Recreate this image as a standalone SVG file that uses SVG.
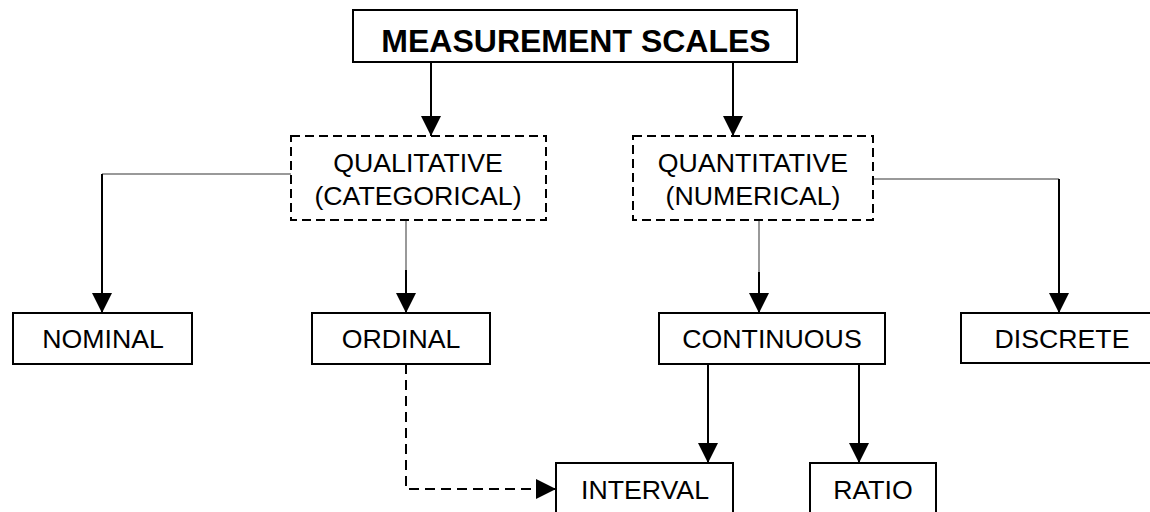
<svg xmlns="http://www.w3.org/2000/svg" width="1150" height="512" viewBox="0 0 1150 512">
<style>
.box{fill:#fff;stroke:#000;stroke-width:2}
.dbox{fill:#fff;stroke:#000;stroke-width:2;stroke-dasharray:9,5}
.t{font-family:"Liberation Sans",Arial,sans-serif;font-size:26.7px;fill:#000;text-anchor:middle}
.title{font-family:"Liberation Sans",Arial,sans-serif;font-size:32px;font-weight:bold;fill:#000;text-anchor:middle}
.c{fill:none;stroke:#000;stroke-width:2}
.g{fill:none;stroke:#999;stroke-width:2}
.dc{fill:none;stroke:#000;stroke-width:2;stroke-dasharray:10,6}
</style>
<defs>
<marker id="ah" viewBox="0 0 20 20" refX="20" refY="10" markerWidth="20" markerHeight="20" markerUnits="userSpaceOnUse" orient="auto">
<path d="M0,0 L20,10 L0,20 z" fill="#000"/>
</marker>
</defs>
<rect width="1150" height="512" fill="#fff"/>
<g id="connectors">
<path class="c" d="M431,62 V136" marker-end="url(#ah)"/>
<path class="c" d="M733,62 V136" marker-end="url(#ah)"/>
<path class="g" d="M291,174 H102"/>
<path class="c" d="M102,174 V313" marker-end="url(#ah)"/>
<path class="g" d="M406,220 V270"/>
<path class="c" d="M406,270 V313" marker-end="url(#ah)"/>
<path class="g" d="M759,220 V272"/>
<path class="c" d="M759,272 V313" marker-end="url(#ah)"/>
<path class="g" d="M873,179 H1059"/>
<path class="c" d="M1059,179 V313" marker-end="url(#ah)"/>
<path class="c" d="M708,364 V463" marker-end="url(#ah)"/>
<path class="c" d="M859,364 V463" marker-end="url(#ah)"/>
<path class="dc" d="M406,364 V489 H556" marker-end="url(#ah)"/>
</g>
<g id="measurement-scales">
<rect class="box" x="353" y="10" width="444" height="52"/>
<text class="title" x="576" y="52">MEASUREMENT SCALES</text>
</g>
<g id="qualitative">
<rect class="dbox" x="291" y="136" width="255" height="84"/>
<text class="t" x="418" y="172">QUALITATIVE</text>
<text class="t" x="418" y="205">(CATEGORICAL)</text>
</g>
<g id="quantitative">
<rect class="dbox" x="633" y="136" width="240" height="84"/>
<text class="t" x="753" y="172">QUANTITATIVE</text>
<text class="t" x="753" y="205">(NUMERICAL)</text>
</g>
<g id="nominal">
<rect class="box" x="13" y="313" width="179" height="51"/>
<text class="t" x="103" y="348">NOMINAL</text>
</g>
<g id="ordinal">
<rect class="box" x="312" y="313" width="178" height="51"/>
<text class="t" x="401" y="348">ORDINAL</text>
</g>
<g id="continuous">
<rect class="box" x="659" y="313" width="226" height="51"/>
<text class="t" x="772" y="348">CONTINUOUS</text>
</g>
<g id="discrete">
<rect class="box" x="961" y="313" width="200" height="50"/>
<text class="t" x="1062" y="348">DISCRETE</text>
</g>
<g id="interval">
<rect class="box" x="556" y="463" width="177" height="60"/>
<text class="t" x="645" y="499">INTERVAL</text>
</g>
<g id="ratio">
<rect class="box" x="810" y="463" width="126" height="60"/>
<text class="t" x="873" y="499">RATIO</text>
</g>
</svg>
